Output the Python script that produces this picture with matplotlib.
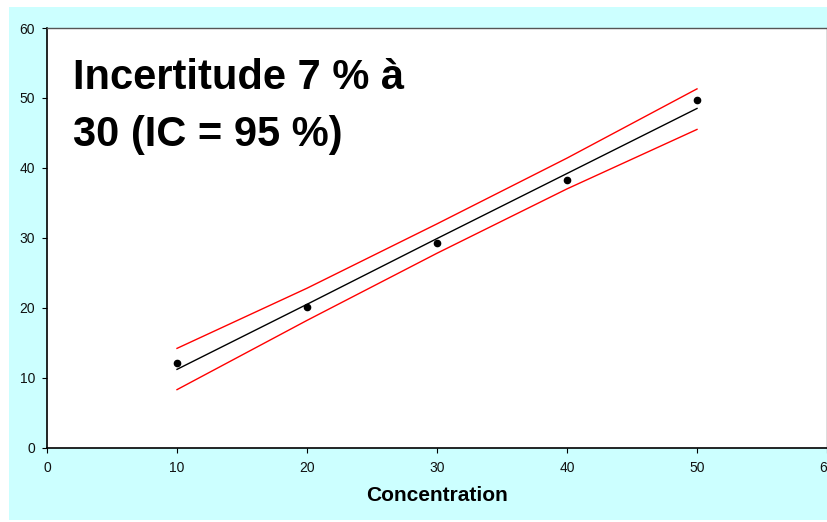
import matplotlib
matplotlib.use("Agg")
import matplotlib.pyplot as plt
from matplotlib.patches import Rectangle

plt.rcParams['font.family'] = ['Liberation Sans', 'DejaVu Sans']

# Calibration data
concentration = [10, 20, 30, 40, 50]
measured = [12.15, 20.15, 29.3, 38.2, 49.65]
fitted = [11.2, 20.5, 29.9, 39.2, 48.5]
upper_limit = [14.2, 22.8, 32.0, 41.4, 51.3]
lower_limit = [8.3, 18.2, 27.8, 37.0, 45.5]

x_ticks = [0, 10, 20, 30, 40, 50, 60]
y_ticks = [0, 10, 20, 30, 40, 50, 60]

W, H = 827, 522
fig = plt.figure(figsize=(W / 100, H / 100), dpi=100)
fig.patch.set_facecolor('white')

# Cyan chart-area panel, drawn behind the axes
panel = Rectangle((9 / W, (H - 520) / H), (W - 9) / W, (520 - 7) / H,
                  transform=fig.transFigure, facecolor='#CCFFFF',
                  edgecolor='none', zorder=-10)
fig.add_artist(panel)

ax = fig.add_axes([47 / W, 1 - 447.7 / H, (W - 47) / W, (447.7 - 28) / H])
ax.set_zorder(1)
ax.set_facecolor('white')

ax.plot(concentration, upper_limit, color='#FF0000', lw=1.0)
ax.plot(concentration, lower_limit, color='#FF0000', lw=1.0)
ax.plot(concentration, fitted, color='black', lw=1.0)
ax.plot(concentration, measured, 'o', color='black', markersize=4.5)

ax.set_xlim(0, 60)
ax.set_ylim(0, 60)
ax.set_xticks(x_ticks)
ax.set_yticks(y_ticks)
ax.tick_params(direction='out', length=3.5, width=0.8, color='black',
               labelsize=10, labelcolor='#111111')
ax.tick_params(axis='x', pad=6)
ax.tick_params(axis='y', pad=5)

for side in ('left', 'bottom'):
    ax.spines[side].set_color('black')
    ax.spines[side].set_linewidth(1.2)
for side in ('top', 'right'):
    ax.spines[side].set_color('#555555')
    ax.spines[side].set_linewidth(1.0)

ax.set_xlabel('Concentration', fontsize=15, fontweight='bold', labelpad=8)

ax.text(73 / W, 1 - 89 / H, 'Incertitude 7 % à', fontsize=30,
        fontweight='bold', ha='left', va='baseline', transform=fig.transFigure)
ax.text(73 / W, 1 - 146 / H, '30 (IC = 95 %)', fontsize=30,
        fontweight='bold', ha='left', va='baseline', transform=fig.transFigure)

fig.savefig('out.png', dpi=100)
